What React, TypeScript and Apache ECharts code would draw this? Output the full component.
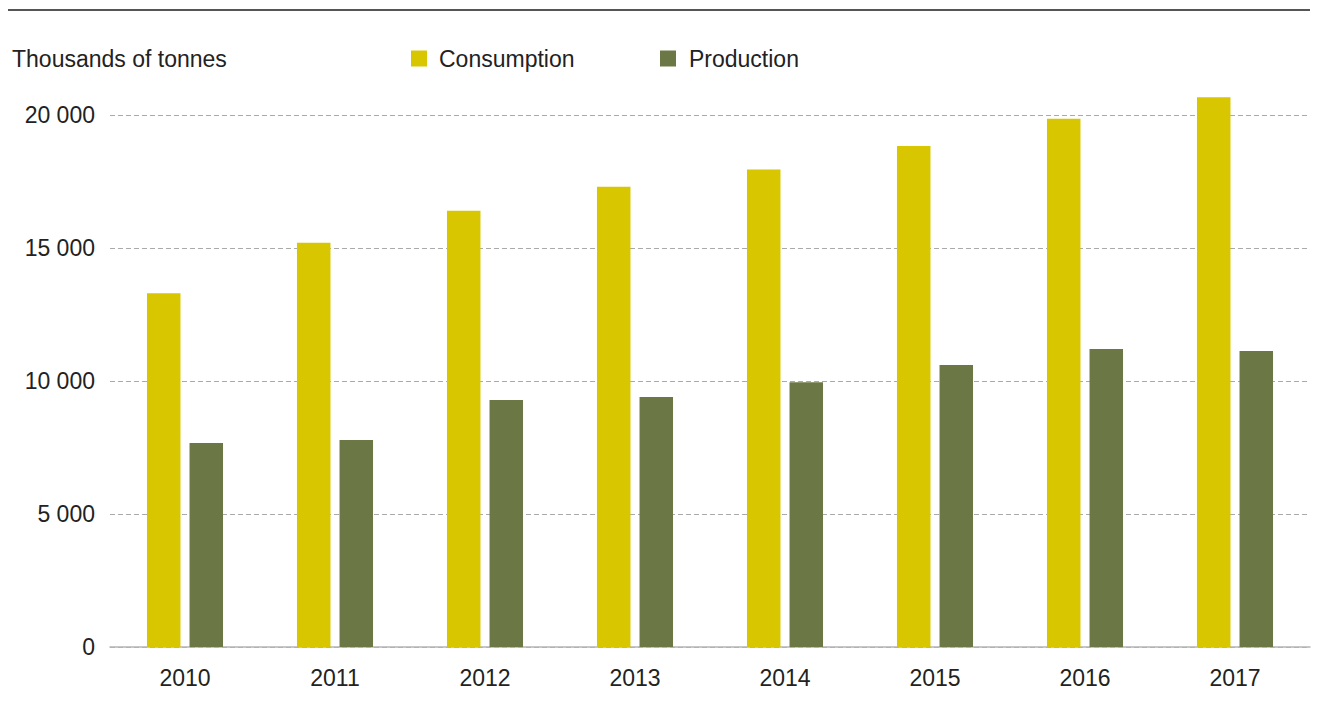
import React, { useEffect, useRef } from "react";
import * as echarts from "echarts";

const years = ["2010", "2011", "2012", "2013", "2014", "2015", "2016", "2017"];
const consumption = [13300, 15200, 16400, 17300, 17950, 18830, 19860, 20670];
const production = [7670, 7780, 9290, 9400, 9950, 10600, 11200, 11130];
const seriesNames = ["Consumption", "Production"];
const unitLabel = "Thousands of tonnes";

const FONT = "'Helvetica Neue', Helvetica, 'Liberation Sans', Arial, sans-serif";
const TEXT = "#222222";

function fmt(v: number): string {
  return String(v).replace(/\B(?=(\d{3})+(?!\d))/g, " ");
}

export default function App() {
  const ref = useRef<HTMLDivElement>(null);
  useEffect(() => {
    if (!ref.current) return;
    const chart = echarts.init(ref.current, undefined, { renderer: "svg" });
    chart.setOption({
      animation: false,
      backgroundColor: "#ffffff",
      title: {
        text: unitLabel,
        left: 7,
        top: 42,
        textStyle: { fontFamily: FONT, fontSize: 23, fontWeight: "normal", color: TEXT },
      },
      legend: [
        {
          data: [seriesNames[0]],
          left: 406,
          top: 42,
          itemWidth: 16,
          itemHeight: 16,
          icon: "rect",
          textStyle: { fontFamily: FONT, fontSize: 23, color: TEXT, padding: [0, 0, 0, 7] },
        },
        {
          data: [seriesNames[1]],
          left: 655,
          top: 42,
          itemWidth: 16,
          itemHeight: 16,
          icon: "rect",
          textStyle: { fontFamily: FONT, fontSize: 23, color: TEXT, padding: [0, 0, 0, 8] },
        },
      ],
      graphic: [
        {
          type: "line",
          shape: { x1: 8, y1: 10, x2: 1310, y2: 10 },
          style: { stroke: "#555555", lineWidth: 2 },
        },
      ],
      grid: { left: 110, right: 8, top: 115, bottom: 81, containLabel: false },
      xAxis: {
        type: "category",
        data: years,
        axisLine: { show: true, lineStyle: { color: "#b5b5b5", width: 1.5 } },
        axisTick: { show: false },
        axisLabel: { fontFamily: FONT, fontSize: 23, color: TEXT, margin: 19 },
      },
      yAxis: {
        type: "value",
        min: 0,
        max: 20000,
        interval: 5000,
        axisLine: { show: false },
        axisTick: { show: false },
        axisLabel: {
          fontFamily: FONT,
          fontSize: 23,
          color: TEXT,
          margin: 15,
          formatter: (v: number) => fmt(v),
        },
        splitLine: { lineStyle: { color: "#aaaaaa", type: [5, 3], width: 1 } },
      },
      series: [
        {
          name: seriesNames[0],
          type: "bar",
          data: consumption,
          barWidth: 33.5,
          barGap: "27%",
          clip: false,
          itemStyle: { color: "#d7c600" },
        },
        {
          name: seriesNames[1],
          type: "bar",
          data: production,
          barWidth: 33.5,
          clip: false,
          itemStyle: { color: "#6b7845" },
        },
      ],
    });
    return () => chart.dispose();
  }, []);
  return (
    <div
      ref={ref}
      style={{ position: "fixed", left: 0, top: 0, width: 1318, height: 728 }}
    />
  );
}
